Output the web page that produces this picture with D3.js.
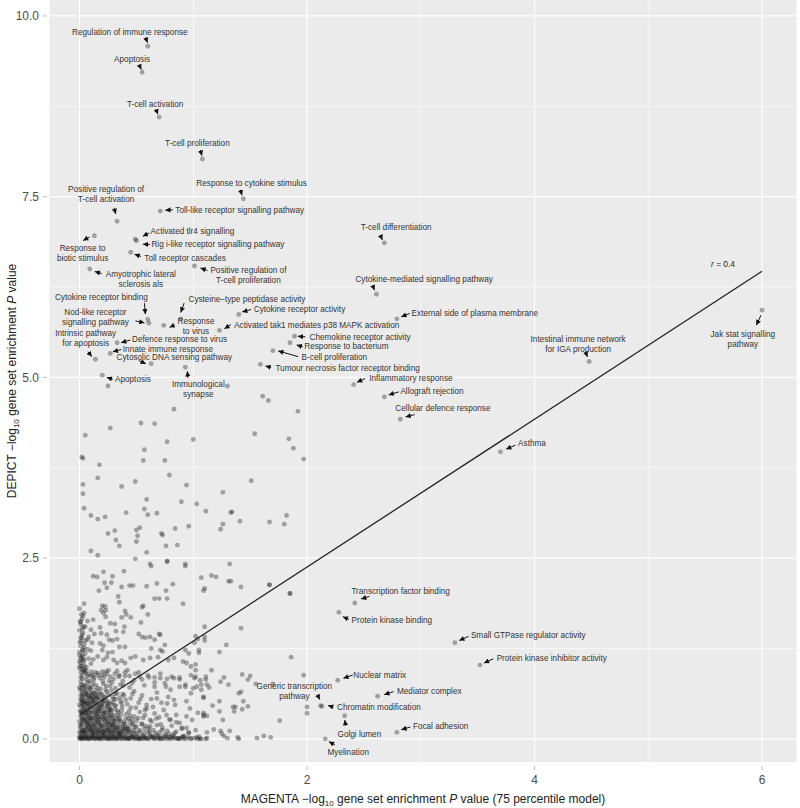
<!DOCTYPE html>
<html><head><meta charset="utf-8">
<script src="https://cdn.jsdelivr.net/npm/d3@7"></script>
<style>
body{margin:0;background:#fff}
svg{display:block;font-family:"Liberation Sans",Arial,Helvetica,sans-serif}
</style>
</head><body>
<svg id="chart" width="800" height="808"></svg>
<script>
// ---------------- DATA ----------------
const xTicks = [0, 2, 4, 6];
const xTickLabels = ["0", "2", "4", "6"];
const yTicks = [0, 2.5, 5, 7.5, 10];
const yTickLabels = ["0.0", "2.5", "5.0", "7.5", "10.0"];
const xMinor = [1, 3, 5];
const yMinor = [1.25, 3.75, 6.25, 8.75];
const xLimits = [-0.265, 6.303];
const yLimits = [-0.32, 10.22];

const fitIntercept = 0.33;
const fitSlope = 1.023;
const fitRange = [0, 6];
const fitLabel = "0.4";

const labelText = [
 "Regulation of immune response","Apoptosis","T-cell activation","T-cell proliferation",
 "Response to cytokine stimulus","Toll-like receptor signalling pathway",
 "Positive regulation of\nT-cell activation","Response to\nbiotic stimulus",
 "Activated tlr4 signalling","Rig i-like receptor signalling pathway","Toll receptor cascades",
 "Amyotrophic lateral\nsclerosis als","Positive regulation of\nT-cell proliferation",
 "T-cell differentiation","Cytokine-mediated signalling pathway","External side of plasma membrane",
 "Cytokine receptor activity","Activated tak1 mediates p38 MAPK activation",
 "Chemokine receptor activity","Response to bacterium","B-cell proliferation",
 "Tumour necrosis factor receptor binding","Inflammatory response","Allograft rejection",
 "Cellular defence response","Intestinal immune network\nfor IGA production",
 "Jak stat signalling\npathway","Asthma","Cytokine receptor binding",
 "Nod-like receptor\nsignalling pathway","Response\nto virus","Cysteine\u2013type peptidase activity",
 "Defence response to virus","Innate immune response","Intrinsic pathway\nfor apoptosis",
 "Cytosolic DNA sensing pathway","Immunological\nsynapse","Apoptosis",
 "Transcription factor binding","Protein kinase binding","Small GTPase regulator activity",
 "Protein kinase inhibitor activity","Nuclear matrix","Mediator complex",
 "Generic transcription\npathway","Chromatin modification","Golgi lumen","Focal adhesion","Myelination"
];
const labelX = [0.60,0.55,0.70,1.08,1.44,0.71,0.33,0.13,0.49,0.50,0.45,0.09,1.01,2.68,2.61,2.79,1.40,1.23,
 1.89,1.85,1.70,1.59,2.41,2.68,2.82,4.48,6.00,3.70,0.60,0.61,0.74,0.89,0.33,0.27,0.14,0.63,0.93,0.20,
 2.42,2.28,3.30,3.52,2.27,2.62,2.12,2.13,2.33,2.79,2.16];
const labelY = [9.58,9.22,8.60,8.02,7.47,7.30,7.16,6.96,6.91,6.89,6.73,6.50,6.54,6.86,6.15,5.81,5.87,5.65,
 5.57,5.48,5.37,5.18,4.90,4.73,4.42,5.22,5.93,3.97,5.80,5.75,5.72,5.81,5.48,5.33,5.25,5.19,5.14,5.03,
 1.88,1.75,1.33,1.02,0.81,0.59,0.46,0.45,0.32,0.09,0.00];

const cloudUpper = [
 [0.83,4.56],[0.54,4.37],[0.66,4.36],[0.27,4.30],[0.05,4.20],[0.77,4.11],[1.00,4.14],[0.57,4.00],
 [0.02,3.90],[0.03,3.88],[0.56,3.85],[0.75,3.85],[0.175,3.79],[0.16,3.61],[0.79,3.65],[0.03,3.52],
 [0.37,3.49],[0.49,3.56],[0.94,3.51],[1.26,3.41],[0.03,3.39],[0.59,3.31],[0.895,3.28],[1.03,3.25],
 [0.04,3.19],[0.57,3.18],[0.41,3.13],[0.60,3.10],[0.68,3.12],[1.11,3.15],[1.33,3.13],[0.10,3.09],
 [0.16,3.04],[0.225,3.07],[1.41,3.01],[1.26,2.97],[1.24,2.90],[0.53,2.92],[0.50,2.89],[0.31,2.88],
 [0.25,2.84],[0.72,2.84],[0.73,2.82],[0.84,2.91],[0.96,2.94],[0.51,2.81],[0.32,2.75],[0.50,2.73],
 [0.35,2.67],[0.76,2.67],[0.86,2.68],[0.59,2.58],[0.10,2.60],[0.16,2.54],[0.49,2.49],[0.77,2.46],
 [0.93,2.42],[1.32,2.42],[0.62,2.42],
 [1.61,4.74],[1.66,4.68],[1.92,4.53],[1.54,4.22],[1.84,4.15],[1.88,4.02],[1.97,3.87],[1.51,3.57],
 [1.34,3.14],[1.67,3.00],[1.82,3.09],[1.80,2.97],[1.30,4.88],[0.25,4.88]
];

const cloudMid = [
 [0.63,2.39],[0.77,2.45],[0.93,2.39],[0.39,2.32],[0.21,2.31],[0.12,2.25],[0.155,2.24],[0.29,2.25],
 [0.22,2.16],[0.28,2.16],[0.68,2.15],[0.82,2.14],[0.44,2.12],[0.47,2.12],[0.37,2.10],[0.59,2.11],
 [0.24,2.09],[0.17,2.05],[0.76,2.05],[0.34,1.97],[0.35,1.89],[0.66,1.94],[0.70,1.94],[0.77,1.94],
 [0.91,1.87],[0.04,1.87],[0.20,1.84],[0.225,1.83],[0.23,1.78],[0.19,1.78],[0.21,1.74],[0.56,1.84],
 [0.55,1.82],[0.04,1.74],[0.40,1.77],[0.41,1.72],[0.37,1.68],[0.45,1.68],[0.60,1.72],[0.23,1.69],
 [0.02,1.66],[0.07,1.63],[0.12,1.65],[0.27,1.60],[0.31,1.59],[0.54,1.61],[0.01,1.58],[0.05,1.55],
 [0.10,1.51],[0.18,1.54],[0.395,1.55],[0.385,1.48],[0.32,1.49],[0.03,1.46],[0.08,1.41],[0.13,1.45],
 [0.19,1.46],[0.24,1.44],[0.52,1.45],[0.55,1.41],[0.58,1.40],[0.62,1.41],[0.66,1.37],[0.70,1.45],
 [0.71,1.44],[0.26,1.37],[0.29,1.36],[0.33,1.38],[0.01,1.35],[0.04,1.31],[0.07,1.37],[0.11,1.33],
 [0.18,1.32],[0.21,1.29],[0.40,1.27],[0.35,1.27],[0.63,1.25],[0.71,1.23],[0.75,1.30],[0.03,1.23],
 [0.07,1.24],[0.10,1.22],[0.05,1.18],[0.20,1.23],[0.25,1.19],[0.29,1.20],[0.01,1.12],[0.04,1.09],
 [0.08,1.11],[0.12,1.10],[0.04,1.02],[0.10,1.04],[0.16,1.14],[0.21,1.09],[0.24,1.13],[0.30,1.09],
 [0.33,1.05],[0.37,1.08],[0.40,1.05],[0.45,1.12],[0.49,1.14],[0.56,1.09],[0.62,1.12],[0.69,1.13],
 [0.73,1.21],[0.78,1.09],[0.83,1.12],[0.93,1.23],[0.96,1.18],[1.05,1.19],[1.02,1.03],[0.98,1.00],
 [1.42,2.10],[1.67,2.13],[1.85,2.01],[1.31,2.18],[1.33,2.18],[1.16,2.26],[1.20,2.24],[1.07,2.23],
 [1.10,2.08],[1.09,2.05],[1.42,1.53],[1.23,1.20],[1.29,1.30],[1.10,1.41],[1.02,1.42],[1.10,1.55],
 [1.10,1.36],[1.05,1.23],[1.86,1.13],[1.97,0.88],[1.43,0.89],[1.48,0.82],[1.50,0.87],[1.16,0.95],
 [1.02,0.95],[1.11,0.86],[1.11,0.82],[1.27,0.85],[1.24,0.79],[1.31,0.75],[1.14,0.71],
 [0.91,1.07],[0.94,1.05],[1.01,1.33],[1.04,1.38],
 [0.00,0.98],[0.01,1.05],[0.02,1.15],[0.00,1.20],[0.01,1.28],[0.02,1.40],[0.00,1.50],[0.01,1.62],
 [0.03,1.70],[0.02,0.96],[0.06,0.99],[0.00,1.07]
];

const cloudLow = [
 [1.55,0.76],[1.70,0.76],[1.40,0.63],[1.42,0.65],[1.44,0.52],[1.48,0.45],[1.37,0.44],[1.36,0.38],
 [1.23,0.38],[1.17,0.46],[1.23,0.52],[1.32,0.11],[1.39,0.02],[1.40,0.00],[1.24,0.11],[1.25,0.07],
 [1.56,0.01],[1.62,0.04],[1.68,0.02],[1.04,0.00],[1.11,0.00],[1.12,0.09],[1.18,0.13],[1.01,0.84],
 [1.06,0.81],[1.07,0.68],[1.09,0.57],[0.88,0.82],[0.93,0.75],[0.98,0.63],[0.94,0.31],[0.99,0.26],
 [1.09,0.36],[0.85,0.23],[0.90,0.15],[1.85,2.01],[1.67,2.13],[2.00,0.44],[2.00,0.355],[1.76,0.25],
 [1.35,0.44],[1.43,0.41],[1.26,0.26],[1.27,0.04],[1.30,0.01],[1.09,0.31],[1.12,0.32],[1.09,0.58],
 [1.03,0.72],[1.12,0.75],[1.05,0.03],[1.07,0.00],[1.12,0.01],
 [0.66,0.72],[0.75,0.77],[0.80,0.68],[0.88,0.72],[0.93,0.72],[1.00,0.70],[1.07,0.75],
 [0.68,0.56],[0.77,0.49],[0.83,0.54],[0.94,0.52],[0.97,0.42],[1.04,0.36],[1.09,0.33],
 [0.80,0.26],[0.88,0.22],[0.94,0.15],[1.02,0.12],[0.96,0.08],[0.91,0.03],
 [0.01,0.92],[0.05,0.91],[0.08,0.89],[0.12,0.88],[0.16,0.91],[0.20,0.88],[0.23,0.93],[0.27,0.86],
 [0.31,0.90],[0.35,0.88],[0.40,0.92],[0.44,0.87],[0.49,0.90],[0.53,0.86],[0.60,0.88],[0.66,0.85],
 [0.71,0.84],[0.77,0.83],[0.83,0.84],[0.88,0.85],[0.98,0.88],[1.02,0.86]
];

const cloudDense = [
 [0.00,0.00],[0.01,0.02],[0.02,0.00],[0.03,0.04],[0.05,0.01],[0.06,0.00],[0.08,0.03],[0.09,0.00],
 [0.11,0.02],[0.13,0.00],[0.14,0.05],[0.16,0.01],[0.18,0.00],[0.19,0.03],[0.21,0.00],[0.23,0.02],
 [0.25,0.00],[0.26,0.04],[0.28,0.01],[0.30,0.00],[0.32,0.02],[0.34,0.00],[0.35,0.05],[0.37,0.01],
 [0.40,0.00],[0.42,0.03],[0.44,0.00],[0.46,0.02],[0.49,0.00],[0.51,0.04],[0.53,0.01],[0.56,0.00],
 [0.58,0.03],[0.61,0.00],[0.63,0.02],[0.66,0.00],[0.69,0.01],[0.71,0.04],[0.74,0.00],[0.77,0.02],
 [0.80,0.00],[0.83,0.03],[0.86,0.00],[0.88,0.01],[0.91,0.00],[0.95,0.02],[0.98,0.00],[1.01,0.01],
 [1.06,0.00],
 [0.00,0.03],[0.02,0.06],[0.04,0.02],[0.07,0.05],[0.10,0.01],[0.12,0.06],[0.15,0.02],[0.17,0.07],
 [0.20,0.03],[0.22,0.06],[0.24,0.01],[0.27,0.06],[0.29,0.03],[0.31,0.07],[0.33,0.02],[0.36,0.06],
 [0.38,0.03],[0.41,0.07],[0.43,0.01],[0.45,0.06],[0.48,0.02],[0.50,0.07],[0.52,0.00],[0.55,0.05],
 [0.59,0.01],[0.62,0.06],[0.65,0.02],[0.68,0.05],[0.72,0.01],[0.75,0.06],[0.79,0.02],[0.82,0.05],
 [0.87,0.01],[0.92,0.04],
 [0.00,0.09],[0.01,0.14],[0.02,0.19],[0.03,0.11],[0.05,0.16],[0.06,0.21],[0.08,0.10],[0.09,0.15],
 [0.11,0.19],[0.12,0.12],[0.14,0.17],[0.16,0.09],[0.17,0.21],[0.19,0.13],[0.21,0.18],[0.22,0.10],
 [0.24,0.15],[0.26,0.20],[0.27,0.11],[0.29,0.16],[0.31,0.09],[0.33,0.19],[0.34,0.13],[0.36,0.17],
 [0.38,0.10],[0.40,0.21],[0.42,0.14],[0.44,0.18],[0.46,0.09],[0.48,0.12],[0.50,0.17],[0.53,0.10],
 [0.55,0.20],[0.57,0.14],[0.60,0.09],[0.62,0.17],[0.65,0.12],[0.68,0.19],[0.70,0.09],[0.73,0.15],
 [0.77,0.11],[0.81,0.18],[0.85,0.10],[0.90,0.14],[0.96,0.09],[0.04,0.12],[0.10,0.18],[0.15,0.14],
 [0.20,0.10],[0.25,0.12],[0.30,0.20],[0.35,0.11],[0.41,0.16],[0.47,0.20],[0.58,0.18],
 [0.00,0.24],[0.01,0.31],[0.02,0.38],[0.03,0.27],[0.04,0.43],[0.06,0.33],[0.07,0.25],[0.09,0.40],
 [0.10,0.29],[0.12,0.36],[0.13,0.24],[0.15,0.42],[0.16,0.31],[0.18,0.27],[0.19,0.38],[0.21,0.33],
 [0.23,0.24],[0.24,0.44],[0.26,0.29],[0.28,0.37],[0.30,0.25],[0.31,0.41],[0.33,0.32],[0.35,0.27],
 [0.37,0.39],[0.39,0.23],[0.41,0.34],[0.43,0.28],[0.45,0.43],[0.48,0.31],[0.50,0.25],[0.53,0.37],
 [0.56,0.29],[0.59,0.42],[0.62,0.26],[0.66,0.35],[0.70,0.30],[0.74,0.40],[0.79,0.27],[0.85,0.33],
 [0.02,0.26],[0.05,0.36],[0.08,0.30],[0.11,0.44],[0.14,0.28],[0.17,0.35],[0.22,0.40],[0.27,0.33],
 [0.34,0.36],[0.44,0.24],
 [0.00,0.47],[0.01,0.55],[0.02,0.63],[0.03,0.50],[0.05,0.58],[0.06,0.66],[0.08,0.48],[0.09,0.56],
 [0.11,0.62],[0.13,0.51],[0.14,0.67],[0.16,0.58],[0.18,0.47],[0.20,0.61],[0.22,0.53],[0.24,0.65],
 [0.26,0.49],[0.29,0.58],[0.31,0.46],[0.33,0.63],[0.36,0.52],[0.39,0.60],[0.42,0.48],[0.45,0.56],
 [0.48,0.66],[0.52,0.50],[0.55,0.60],[0.59,0.47],[0.63,0.55],[0.68,0.64],[0.72,0.50],[0.78,0.58],
 [0.84,0.47],[0.04,0.52],[0.07,0.61],[0.10,0.50],[0.17,0.64],[0.23,0.57],[0.28,0.67],[0.37,0.49],
 [0.00,0.71],[0.01,0.79],[0.02,0.88],[0.03,0.74],[0.04,0.93],[0.06,0.82],[0.08,0.72],[0.10,0.87],
 [0.12,0.77],[0.14,0.92],[0.16,0.70],[0.18,0.84],[0.21,0.76],[0.24,0.90],[0.27,0.73],[0.30,0.83],
 [0.33,0.94],[0.36,0.75],[0.40,0.87],[0.44,0.71],[0.48,0.81],[0.52,0.92],[0.57,0.74],[0.61,0.85],
 [0.66,0.78],[0.71,0.90],[0.76,0.72],[0.81,0.86],[0.01,0.85],[0.05,0.75],[0.09,0.80],[0.13,0.85],
 [0.20,0.93],[0.26,0.80],[0.38,0.80],
 [0.01,0.45],[0.03,0.58],[0.05,0.69],[0.06,0.40],[0.07,0.53],[0.09,0.22],[0.10,0.64],[0.12,0.45],
 [0.13,0.57],[0.15,0.35],[0.16,0.50],[0.18,0.20],[0.19,0.56],[0.20,0.44],[0.22,0.30],[0.23,0.68],
 [0.25,0.52],[0.26,0.16],[0.27,0.42],[0.29,0.07],[0.30,0.55],[0.32,0.46],[0.04,0.08],[0.07,0.13],
 [0.11,0.07],[0.02,0.50],[0.08,0.36],[0.14,0.08],[0.17,0.43],[0.21,0.08],[0.25,0.36],[0.28,0.22],
 [0.31,0.14],[0.34,0.08],[0.38,0.16],[0.03,0.66],[0.09,0.70],[0.15,0.60],[0.12,0.29],[0.06,0.27]
];

const cloudCore = [
 [0.015,0.01],[0.045,0.03],[0.075,0.00],[0.105,0.04],[0.125,0.01],[0.155,0.03],[0.175,0.00],[0.205,0.05],
 [0.235,0.01],[0.255,0.03],[0.275,0.00],[0.305,0.04],[0.325,0.00],[0.355,0.02],[0.385,0.05],[0.405,0.01],
 [0.425,0.00],[0.455,0.04],[0.475,0.01],[0.505,0.02],[0.535,0.00],[0.565,0.03],[0.595,0.00],[0.625,0.04],
 [0.655,0.01],[0.685,0.03],[0.715,0.00],[0.745,0.02],[0.775,0.00],[0.805,0.03],[0.845,0.01],[0.875,0.00],
 [0.905,0.03],[0.935,0.00],[0.975,0.01],[1.03,0.02],
 [0.01,0.08],[0.035,0.10],[0.065,0.07],[0.095,0.11],[0.125,0.09],[0.165,0.12],[0.185,0.08],[0.215,0.11],
 [0.245,0.08],[0.285,0.10],[0.315,0.12],[0.345,0.08],[0.375,0.11],[0.415,0.09],[0.445,0.12],[0.485,0.08],
 [0.525,0.12],[0.565,0.08],[0.615,0.11],[0.665,0.08],[0.725,0.12],[0.785,0.07],[0.835,0.08],
 [0.005,0.17],[0.025,0.22],[0.045,0.28],[0.055,0.14],[0.075,0.19],[0.085,0.32],[0.105,0.24],[0.115,0.15],
 [0.135,0.21],[0.145,0.33],[0.165,0.26],[0.175,0.16],[0.195,0.23],[0.205,0.34],[0.225,0.19],[0.235,0.28],
 [0.255,0.14],[0.265,0.25],[0.285,0.31],[0.295,0.19],[0.315,0.27],[0.335,0.15],[0.345,0.23],[0.365,0.33],
 [0.385,0.20],[0.405,0.28],[0.425,0.13],[0.445,0.32],[0.465,0.22],[0.485,0.16],[0.515,0.29],[0.545,0.21],
 [0.575,0.33],[0.605,0.15],[0.635,0.24],[0.675,0.28],[0.715,0.20],[0.765,0.33],[0.02,0.34],[0.06,0.23],
 [0.10,0.13],[0.15,0.25],[0.19,0.30],[0.24,0.21],[0.30,0.33],[0.36,0.25],[0.40,0.14],[0.46,0.27],
 [0.005,0.39],[0.015,0.52],[0.025,0.60],[0.035,0.42],[0.045,0.48],[0.055,0.63],[0.065,0.37],[0.075,0.45],
 [0.085,0.59],[0.095,0.51],[0.105,0.38],[0.115,0.55],[0.125,0.63],[0.135,0.41],[0.145,0.49],[0.155,0.56],
 [0.175,0.39],[0.185,0.62],[0.195,0.46],[0.215,0.58],[0.225,0.37],[0.245,0.49],[0.255,0.61],[0.275,0.40],
 [0.295,0.51],[0.315,0.62],[0.335,0.39],[0.355,0.57],[0.375,0.44],[0.405,0.54],[0.435,0.38],[0.465,0.62],
 [0.495,0.43],[0.535,0.55],[0.575,0.40],[0.645,0.44],[0.03,0.36],[0.07,0.49],[0.12,0.57],[0.16,0.38],
 [0.21,0.51],[0.26,0.42],[0.32,0.55],[0.38,0.62],
 [0.005,0.68],[0.015,0.75],[0.025,0.83],[0.035,0.95],[0.045,0.72],[0.065,0.87],[0.075,0.78],[0.095,0.68],
 [0.105,0.93],[0.125,0.82],[0.145,0.74],[0.165,0.88],[0.185,0.69],[0.205,0.80],[0.235,0.73],[0.255,0.95],
 [0.285,0.78],[0.315,0.70],[0.345,0.86],[0.385,0.74],[0.42,0.95],[0.46,0.77],[0.55,0.82],[0.02,0.70],
 [0.06,0.94],[0.11,0.72],[0.22,0.86],
 [0.005,1.00],[0.015,1.10],[0.025,1.22],[0.005,1.33],[0.02,1.44],[0.035,1.55],[0.005,1.62],[0.015,1.72],
 [0.04,1.26],[0.03,1.14],[0.045,0.97],[0.01,1.40],[0.00,1.80],[0.025,1.52],[0.05,1.36],[0.02,1.01],
 [0.035,1.08],[0.00,1.16]
];

const cloudCore2 = [
 [0.005,0.02],[0.03,0.00],[0.055,0.02],[0.085,0.01],[0.115,0.03],[0.145,0.00],[0.17,0.02],[0.195,0.01],
 [0.225,0.04],[0.26,0.00],[0.29,0.02],[0.315,0.01],[0.345,0.04],[0.37,0.00],[0.395,0.02],[0.435,0.01],
 [0.47,0.03],[0.515,0.00],[0.545,0.02],[0.575,0.01],[0.64,0.03],[0.70,0.00],[0.76,0.04],[0.82,0.01],
 [0.02,0.12],[0.05,0.09],[0.08,0.16],[0.11,0.10],[0.14,0.13],[0.17,0.10],[0.20,0.15],[0.23,0.12],
 [0.26,0.09],[0.29,0.13],[0.32,0.16],[0.36,0.08],[0.39,0.13],[0.43,0.10],
 [0.01,0.20],[0.04,0.25],[0.07,0.21],[0.10,0.27],[0.13,0.19],[0.16,0.23],[0.19,0.18],[0.22,0.26],
 [0.25,0.23],[0.28,0.19],[0.31,0.24],[0.34,0.29],[0.02,0.30],[0.05,0.33],[0.09,0.28],[0.13,0.31],
 [0.17,0.30],[0.21,0.28],[0.25,0.32],[0.29,0.28],
 [0.01,0.37],[0.04,0.39],[0.07,0.42],[0.10,0.35],[0.14,0.38],[0.18,0.42],[0.22,0.36],[0.26,0.39],
 [0.03,0.46],[0.06,0.49],[0.09,0.44],[0.12,0.50],[0.16,0.46],[0.20,0.49],[0.24,0.46],[0.28,0.48],
 [0.02,0.54],[0.05,0.52],[0.08,0.57],[0.12,0.53],[0.16,0.55],[0.20,0.53],[0.01,0.60],[0.06,0.62],
 [0.10,0.59],[0.14,0.62]
];

// ---------------- LAYOUT (pixel offsets of label text / arrows from each point) ----------------
// [anchor, textDx, textDy, arrowStartDx, arrowStartDy, arrowEndDx, arrowEndDy]
const labelLayout = [
 ["middle",-18,-14,-2.2,-8.8,-0.3,-3.5],
 ["middle",-10,-13,-3,-7.5,-0.8,-2.8],
 ["middle",-4,-13,-3,-7.5,-1.3,-2.8],
 ["middle",-5,-15.6,-2,-9,-0.5,-3.3],
 ["middle",8.3,-15.3,-3,-9,-1.3,-3.5],
 ["start",15,-1.3,12.5,-1.3,5,-0.8],
 ["middle",-11,-32,-3,-13.3,-1.3,-7.3],
 ["middle",-11.7,12.6,-4.7,1.3,-11.2,4.8],
 ["start",15.3,-8.3,14,-6.3,7.5,-3],
 ["start",15,3.7,13.5,3.7,6.5,3.5],
 ["start",13.6,5.4,10.3,4.2,3.8,2],
 ["middle",51,5.3,12,4.6,5,2.6],
 ["middle",54,4.3,13,4.5,6,2],
 ["middle",11.8,-15.3,-3.7,-7,-2,-3],
 ["middle",47.7,-15,-3.6,-8.3,-2,-4],
 ["start",14.7,-5.4,12.7,-5.4,4.4,-2],
 ["start",15,-5,12.4,-5,3.4,-2.6],
 ["start",14.7,-5.7,11.4,-5.7,5,-1.7],
 ["start",15,0.7,11,0.7,3.3,0],
 ["start",14.3,3.3,12.7,4,6.7,2.3],
 ["start",28.7,6.3,25.3,6,5.3,0.3],
 ["start",15,3.4,10.7,3,5,1.7],
 ["start",15.6,-6.7,11.3,-6,3.3,-2.3],
 ["start",16,-5.6,14.3,-5,4.3,-2],
 ["middle",42.6,-11.4,14.3,-4.7,5.3,-2.4],
 ["middle",-11,-22.6,-3,-8,-1.7,-4.6],
 ["middle",-19.2,23.7,-1,5,-5.7,15],
 ["start",17.7,-8.3,15,-6.7,5.7,-2.7],
 ["middle",-46.4,-22.4,-3.4,-16.4,-2.4,-5.4],
 ["middle",-53.5,-11,-13.5,-2.3,-4.5,-0.3],
 ["middle",32.3,-4.4,10.8,-0.2,5.8,2],
 ["middle",66.2,-19.7,3.3,-15.7,0,-6.3],
 ["start",15,-3.2,13.3,-2.7,4,0],
 ["start",12.6,-4,11,-4,2.6,-1.7],
 ["middle",-9.8,-26,-7.3,-7.6,-3.8,-2.7],
 ["middle",23.2,-6.3,-12.3,-3,-5.3,0],
 ["middle",13,16.6,2.6,10.6,2,4],
 ["start",12.7,4,10.5,4,4.5,2.3],
 ["middle",45.8,-12.3,14.6,-6.6,6.3,-4],
 ["start",12.7,8,10,7,4,4.4],
 ["start",16,-7.3,13.6,-6.3,4.3,-2.3],
 ["start",16.7,-7,13.3,-6.3,4,-2],
 ["start",15.6,-5.3,15,-5.3,5.6,-2],
 ["start",19.4,-5.3,16,-4.6,6.7,-1.6],
 ["middle",-26.3,-19.3,-3.3,-11,-1,-6],
 ["start",15.2,1.2,11.8,0.8,6.2,-0.8],
 ["middle",14.8,18.3,1,10,0.3,4.3],
 ["start",16,-6,13.4,-5.4,4.4,-2.7],
 ["middle",23,13.7,9.7,6.2,3.7,2.7]
];

// ---------------- DRAW ----------------
const svg = d3.select("#chart");
const panel = {left: 49.4, right: 796.5, top: 0, bottom: 762};
const x = d3.scaleLinear().domain(xLimits).range([panel.left, panel.right]);
const y = d3.scaleLinear().domain(yLimits).range([panel.bottom, panel.top]);

const defs = svg.append("defs");
defs.append("marker").attr("id","ah").attr("viewBox","0 0 10 10")
  .attr("refX",10).attr("refY",5).attr("markerWidth",5.6).attr("markerHeight",5.2)
  .attr("markerUnits","userSpaceOnUse").attr("orient","auto")
  .append("path").attr("d","M0,0L10,5L0,10Z").attr("fill","#111");
defs.append("clipPath").attr("id","clip").append("rect")
  .attr("x",panel.left).attr("y",panel.top)
  .attr("width",panel.right-panel.left).attr("height",panel.bottom-panel.top);

svg.append("rect").attr("x",panel.left).attr("y",panel.top)
  .attr("width",panel.right-panel.left).attr("height",panel.bottom-panel.top)
  .attr("fill","#ebebeb");

const grid = svg.append("g").attr("stroke","#fff");
grid.selectAll(".xmin").data(xMinor).join("line").attr("class","xmin")
  .attr("x1",d=>x(d)).attr("x2",d=>x(d)).attr("y1",panel.top).attr("y2",panel.bottom).attr("stroke-width",0.6);
grid.selectAll(".ymin").data(yMinor).join("line").attr("class","ymin")
  .attr("y1",d=>y(d)).attr("y2",d=>y(d)).attr("x1",panel.left).attr("x2",panel.right).attr("stroke-width",0.6);
grid.selectAll(".xmaj").data(xTicks).join("line").attr("class","xmaj")
  .attr("x1",d=>x(d)).attr("x2",d=>x(d)).attr("y1",panel.top).attr("y2",panel.bottom).attr("stroke-width",1.1);
grid.selectAll(".ymaj").data(yTicks).join("line").attr("class","ymaj")
  .attr("y1",d=>y(d)).attr("y2",d=>y(d)).attr("x1",panel.left).attr("x2",panel.right).attr("stroke-width",1.1);

// points
const labelled = labelX.map((d,i)=>[d,labelY[i]]);
const allPts = [].concat(cloudCore2, cloudCore, cloudDense, cloudLow, cloudMid, cloudUpper, labelled);
svg.append("g").attr("clip-path","url(#clip)")
  .selectAll("circle").data(allPts).join("circle")
  .attr("cx",d=>x(d[0])).attr("cy",d=>y(d[1])).attr("r",2.45)
  .attr("fill","#1e1e1e").attr("fill-opacity",0.37);

// fit line
svg.append("line")
  .attr("x1",x(fitRange[0])).attr("y1",y(fitIntercept+fitSlope*fitRange[0]))
  .attr("x2",x(fitRange[1])).attr("y2",y(fitIntercept+fitSlope*fitRange[1]))
  .attr("stroke","#222").attr("stroke-width",1.3);
const rt = svg.append("text").attr("x",x(fitRange[1])-39).attr("y",y(fitIntercept+fitSlope*fitRange[1])-7)
  .attr("font-size",8.4).attr("fill","#222").attr("text-anchor","middle").attr("dominant-baseline","central");
rt.append("tspan").attr("font-style","italic").text("r");
rt.append("tspan").text(" = " + fitLabel);

// annotations
const ann = svg.append("g");
labelled.forEach((p,i)=>{
  const L = labelLayout[i];
  const px = x(p[0]), py = y(p[1]);
  ann.append("line")
    .attr("x1",px+L[3]).attr("y1",py+L[4]).attr("x2",px+L[5]).attr("y2",py+L[6])
    .attr("stroke","#111").attr("stroke-width",1).attr("marker-end","url(#ah)");
  const lines = labelText[i].split("\n");
  const t = ann.append("text").attr("font-size",8.2).attr("fill","#333")
    .attr("text-anchor",L[0]);
  lines.forEach((ln,j)=>{
    t.append("tspan").attr("x",px+L[1]).attr("y",py+L[2]+j*10).attr("dy","0.35em").text(ln);
  });
});

// axes
const axisCol = "#4d4d4d";
const xa = svg.append("g");
xa.selectAll("line").data(xTicks).join("line")
  .attr("x1",d=>x(d)).attr("x2",d=>x(d)).attr("y1",panel.bottom+4).attr("y2",panel.bottom+8)
  .attr("stroke","#aaa").attr("stroke-width",0.8);
xa.selectAll("text").data(xTicks).join("text")
  .attr("x",d=>x(d)).attr("y",780).attr("dy","0.35em").attr("text-anchor","middle")
  .attr("font-size",12).attr("fill",axisCol).text((d,i)=>xTickLabels[i]);
const ya = svg.append("g");
ya.selectAll("line").data(yTicks).join("line")
  .attr("y1",d=>y(d)).attr("y2",d=>y(d)).attr("x1",43).attr("x2",47)
  .attr("stroke","#aaa").attr("stroke-width",0.8);
ya.selectAll("text").data(yTicks).join("text")
  .attr("x",39).attr("y",d=>y(d)).attr("dy","0.35em").attr("text-anchor","end")
  .attr("font-size",12).attr("fill",axisCol).text((d,i)=>yTickLabels[i]);

function axisTitle(sel, pre){
  sel.append("tspan").text(pre + " \u2212log");
  sel.append("tspan").attr("font-size",8).attr("dy",3).text("10");
  sel.append("tspan").attr("dy",-3).text(" gene set enrichment ");
  sel.append("tspan").attr("font-style","italic").text("P");
  return sel;
}
const xt = svg.append("text").attr("x",(panel.left+panel.right)/2).attr("y",799).attr("dy","0.35em")
  .attr("text-anchor","middle").attr("font-size",12).attr("fill","#222");
axisTitle(xt,"MAGENTA").append("tspan").text(" value (75 percentile model)");
const yt = svg.append("text").attr("transform",`translate(12,${(panel.top+panel.bottom)/2}) rotate(-90)`)
  .attr("dy","0.35em").attr("text-anchor","middle").attr("font-size",12).attr("fill","#222");
axisTitle(yt,"DEPICT").append("tspan").text(" value");
</script>
</body></html>
